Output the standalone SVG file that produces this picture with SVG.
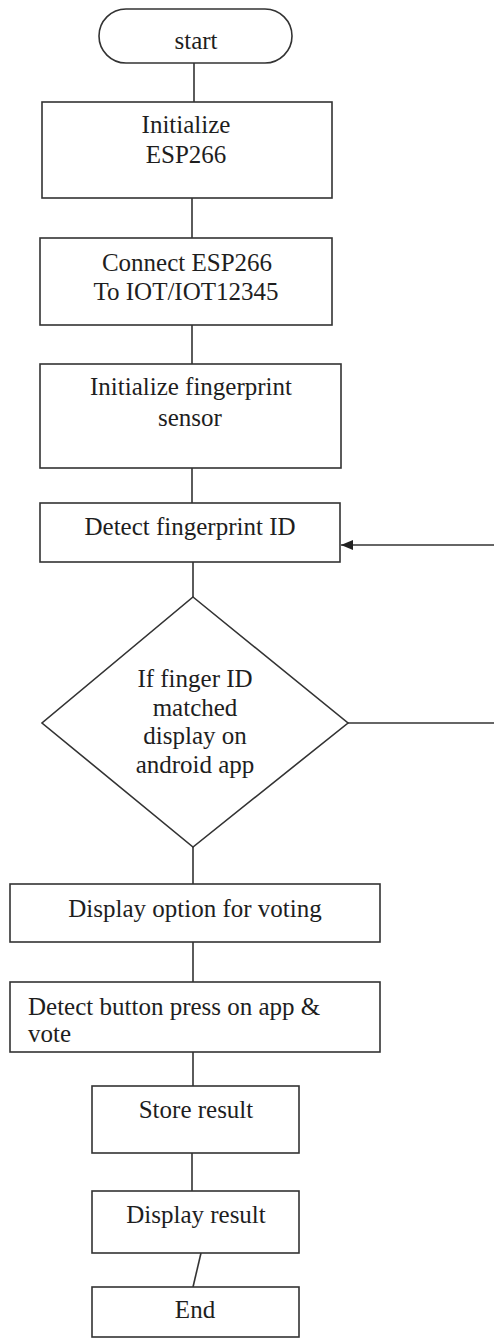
<svg xmlns="http://www.w3.org/2000/svg" width="494" height="1340" viewBox="0 0 494 1340" font-family="'Liberation Serif', 'Times New Roman', 'DejaVu Serif', serif">
<style>
.s{fill:#fff;stroke:#333;stroke-width:1.6}
.c{fill:none;stroke:#333;stroke-width:1.6}
text{font-family:'Liberation Serif','Times New Roman','DejaVu Serif',serif;font-size:25px;fill:#1e1e1e}
.m{text-anchor:middle}
</style>
<defs>
<marker id="ah" viewBox="0 0 12 10" refX="12" refY="5" markerWidth="12" markerHeight="10" markerUnits="userSpaceOnUse" orient="auto">
<path d="M0,0 L12,5 L0,10 z" fill="#222"/>
</marker>
</defs>
<rect width="494" height="1340" fill="#fff"/>
<g id="connectors">
<line class="c" x1="194" y1="63" x2="194" y2="102"/>
<line class="c" x1="192" y1="198" x2="192" y2="238"/>
<line class="c" x1="192" y1="325" x2="192" y2="364"/>
<line class="c" x1="192" y1="468" x2="192" y2="503"/>
<line class="c" x1="193" y1="562" x2="193" y2="597"/>
<line class="c" x1="193" y1="847" x2="193" y2="884"/>
<line class="c" x1="193" y1="942" x2="193" y2="982"/>
<line class="c" x1="193" y1="1052" x2="193" y2="1086"/>
<line class="c" x1="192" y1="1153" x2="192" y2="1191"/>
<line class="c" x1="201" y1="1253" x2="193" y2="1287"/>
<line class="c" x1="348" y1="723" x2="494" y2="723"/>
<line class="c" x1="494" y1="545" x2="341" y2="545" marker-end="url(#ah)"/>
</g>
<g id="start">
<rect class="s" x="99" y="9" width="193" height="54" rx="27" ry="27"/>
<text class="m" x="196" y="49">start</text>
</g>
<g id="init-esp">
<rect class="s" x="42" y="102" width="290" height="96"/>
<text class="m" x="186" y="133">Initialize</text>
<text class="m" x="186" y="163">ESP266</text>
</g>
<g id="connect-esp">
<rect class="s" x="40" y="238" width="292" height="87"/>
<text class="m" x="187" y="271">Connect ESP266</text>
<text class="m" x="186" y="300">To IOT/IOT12345</text>
</g>
<g id="init-fp">
<rect class="s" x="40" y="364" width="301" height="104"/>
<text class="m" x="191" y="395">Initialize fingerprint</text>
<text class="m" x="190" y="426">sensor</text>
</g>
<g id="detect-fp">
<rect class="s" x="40" y="503" width="300" height="59"/>
<text class="m" x="190" y="535">Detect fingerprint ID</text>
</g>
<g id="decision">
<polygon class="s" points="193,597 348,723 193,847 42,723"/>
<text class="m" x="195" y="687">If finger ID</text>
<text class="m" x="195" y="716">matched</text>
<text class="m" x="195" y="744">display on</text>
<text class="m" x="195" y="773">android app</text>
</g>
<g id="display-options">
<rect class="s" x="10" y="884" width="370" height="58"/>
<text class="m" x="195" y="917">Display option for voting</text>
</g>
<g id="detect-button">
<rect class="s" x="10" y="982" width="370" height="70"/>
<text x="28" y="1015">Detect button press on app &amp;</text>
<text x="28" y="1042">vote</text>
</g>
<g id="store">
<rect class="s" x="92" y="1086" width="207" height="67"/>
<text class="m" x="196" y="1118">Store result</text>
</g>
<g id="display-result">
<rect class="s" x="92" y="1191" width="207" height="62"/>
<text class="m" x="196" y="1223">Display result</text>
</g>
<g id="end">
<rect class="s" x="92" y="1287" width="207" height="50"/>
<text class="m" x="195" y="1318">End</text>
</g>
</svg>
